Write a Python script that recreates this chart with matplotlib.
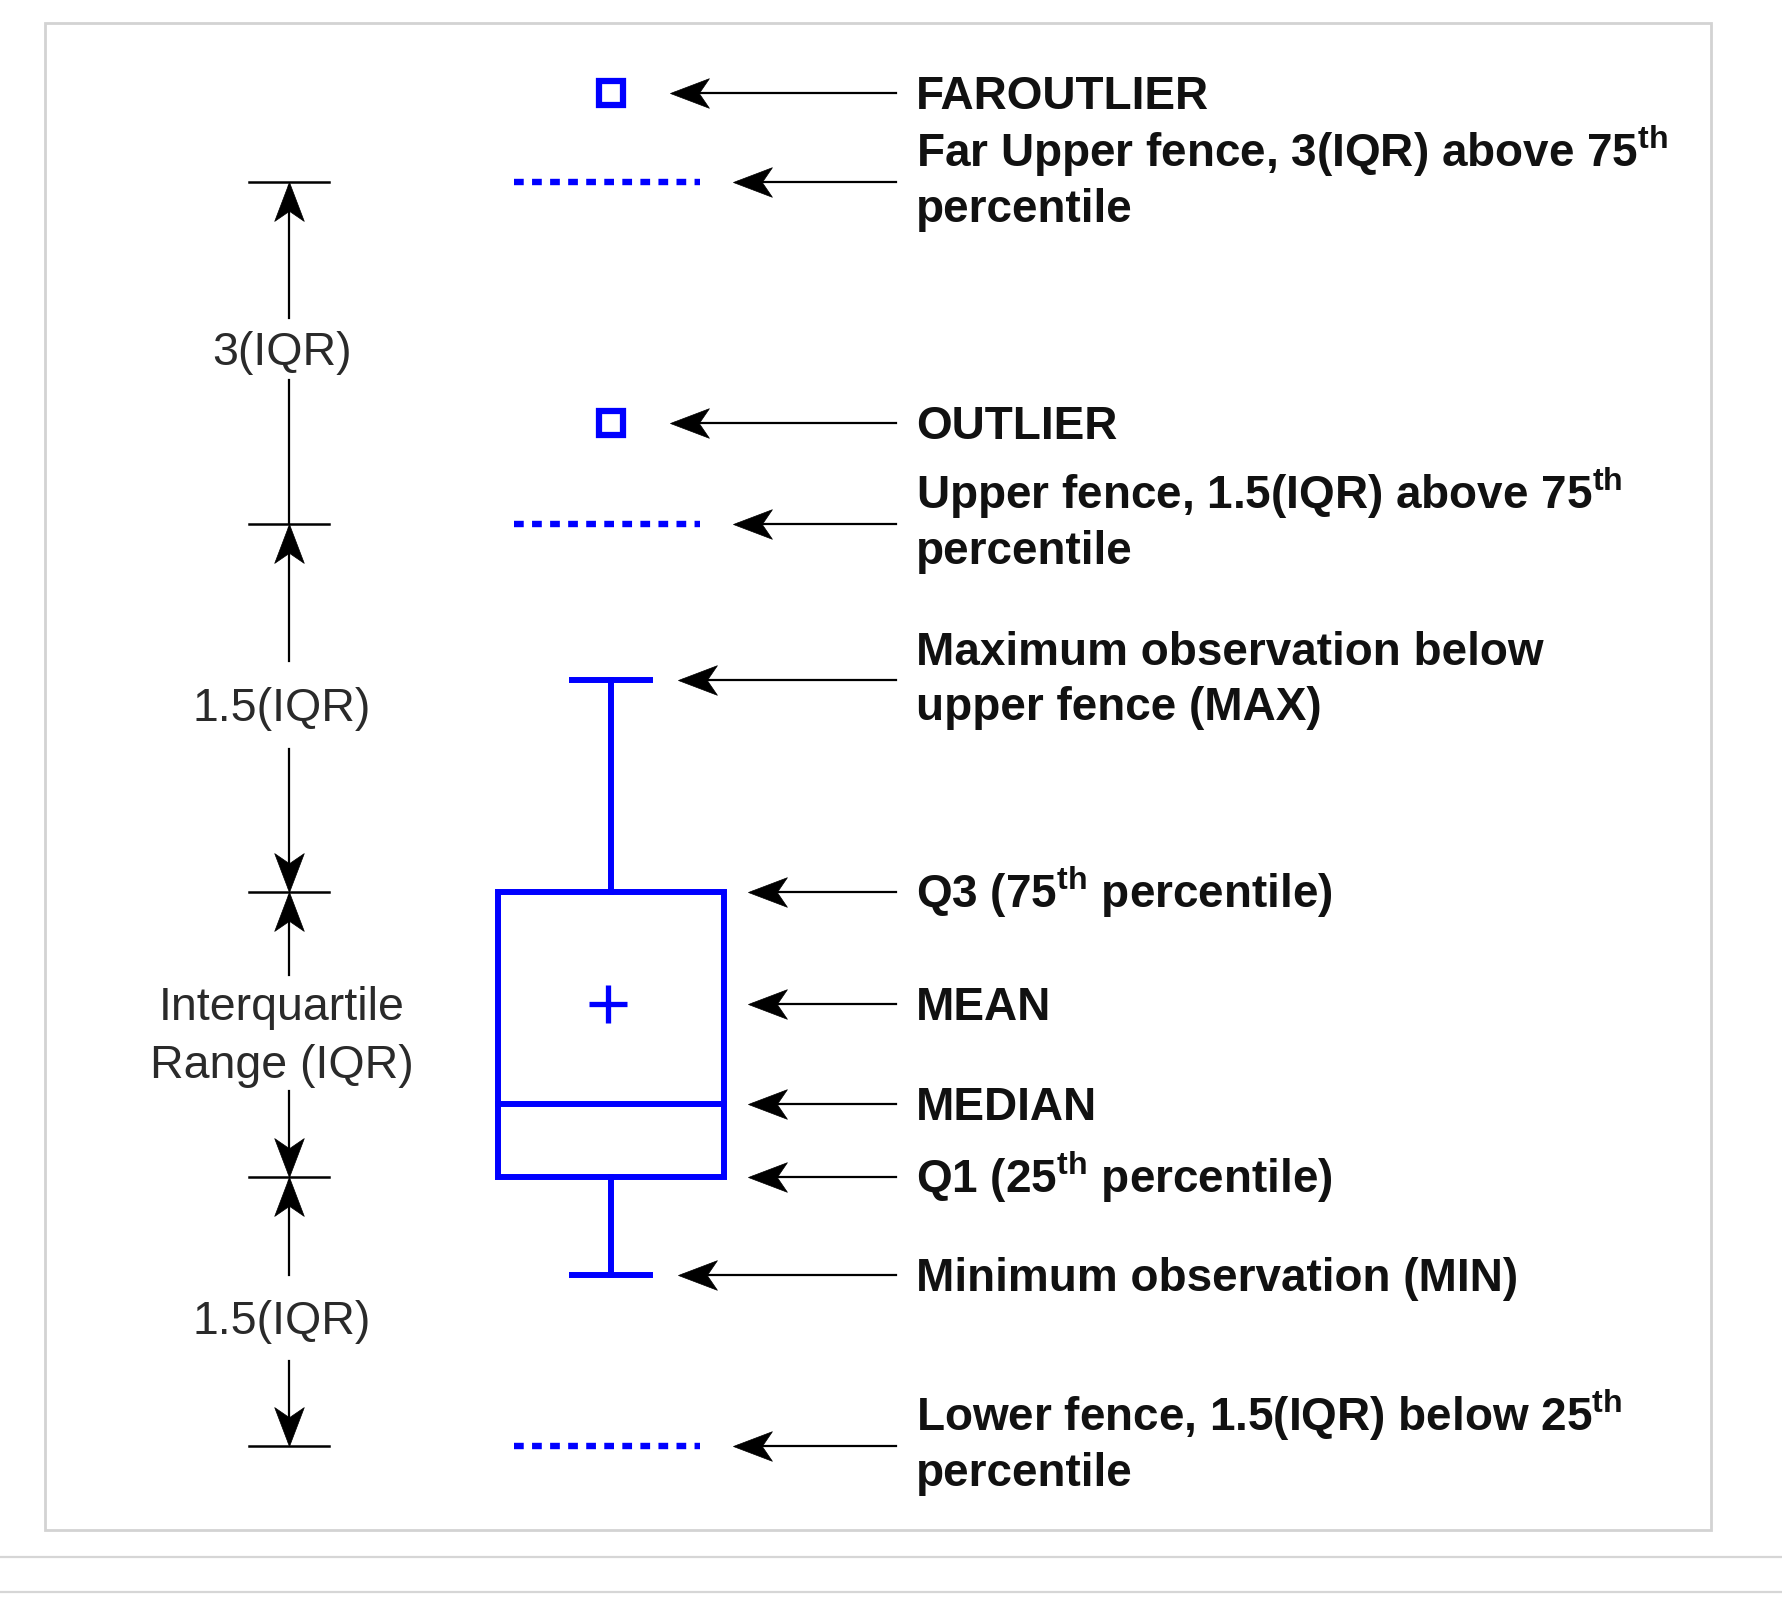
import numpy as np
import matplotlib.pyplot as plt
from matplotlib.path import Path
from matplotlib.patches import Rectangle
from matplotlib.transforms import Affine2D

plt.rcParams['font.family'] = ['Liberation Sans', 'DejaVu Sans']
plt.rcParams['mathtext.fontset'] = 'custom'
plt.rcParams['mathtext.rm'] = 'Liberation Sans'
plt.rcParams['mathtext.bf'] = 'Liberation Sans:bold'
plt.rcParams['lines.scale_dashes'] = False

# %% levels of the schematic box plot (diagram units, 0 = bottom of picture)
stat_names = ['far_outlier', 'far_upper_fence', 'outlier', 'upper_fence', 'max',
              'q3', 'mean', 'median', 'q1', 'min', 'lower_fence']
stat_values = [1512, 1423, 1182, 1081, 925, 713, 601, 501, 428, 330, 159]
stat = dict(zip(stat_names, stat_values))

# text next to each level (one entry per line)
stat_text = [
    ['FAROUTLIER'],
    [r'Far Upper fence, 3(IQR) above 75$^{\mathbf{th}}$', 'percentile'],
    ['OUTLIER'],
    [r'Upper fence, 1.5(IQR) above 75$^{\mathbf{th}}$', 'percentile'],
    ['Maximum observation below', 'upper fence (MAX)'],
    [r'Q3 (75$^{\mathbf{th}}$ percentile)'],
    ['MEAN'],
    ['MEDIAN'],
    [r'Q1 (25$^{\mathbf{th}}$ percentile)'],
    ['Minimum observation (MIN)'],
    [r'Lower fence, 1.5(IQR) below 25$^{\mathbf{th}}$', 'percentile'],
]

# dimension bar on the left
dim_ticks = ['far_upper_fence', 'upper_fence', 'q3', 'q1', 'lower_fence']
dim_labels = [['3(IQR)'], ['1.5(IQR)'], ['Interquartile', 'Range (IQR)'], ['1.5(IQR)']]

# %% layout
W, H = 1782, 1605
blue = '#0000ff'
box_x = 611
box_half = 113
cap_half = 39
arrow_tail = 896
arrow_tip = [670, 733, 670, 733, 678, 748, 748, 748, 748, 678, 733]
text_x = 916
fs = 33
fs_px = fs / 72 * 100
cap = 0.716 * fs_px

dim_x = 289
label_x = 282
label_center = [1256, 900, 572, 287]
label_gap = [31, 44, 58, 43]
heads = [(True, False), (True, True), (True, True), (True, True)]


def head_marker(angle):
    verts = np.array([(0, 0), (1, 0.38), (0.74, 0), (1, -0.38), (0, 0)])
    verts = Affine2D().rotate_deg(angle).transform(verts)
    return Path(verts, [Path.MOVETO, Path.LINETO, Path.LINETO, Path.LINETO, Path.CLOSEPOLY])


left_head = head_marker(0)
up_head = head_marker(-90)
down_head = head_marker(90)
head_ms = 56

fig = plt.figure(figsize=(W / 100, H / 100), dpi=100, facecolor='white')
ax = fig.add_axes([0, 0, 1, 1])
ax.set_xlim(0, W)
ax.set_ylim(0, H)
ax.axis('off')

# frame and page rules
ax.add_patch(Rectangle((45, 75), 1666, 1507, fill=False, ec='#d3d3d3', lw=2))
ax.axhline(48, color='#d6d6d6', lw=1.6)
ax.axhline(13, color='#d6d6d6', lw=1.6)

# -------- box plot --------
ax.add_patch(Rectangle((box_x - box_half, stat['q1']), 2 * box_half,
                       stat['q3'] - stat['q1'], fill=False, ec=blue, lw=4.3,
                       joinstyle='miter'))
ax.plot([box_x - box_half, box_x + box_half], [stat['median']] * 2, color=blue, lw=4.3)
ax.plot([box_x, box_x], [stat['q3'], stat['max']], color=blue, lw=4.3)
ax.plot([box_x, box_x], [stat['q1'], stat['min']], color=blue, lw=4.3)
for k in ['max', 'min']:
    ax.plot([box_x - cap_half, box_x + cap_half], [stat[k]] * 2, color=blue, lw=4.3)
ax.plot(box_x - 3, stat['mean'], marker='+', ms=27, mew=3.8, color=blue)
for k in ['far_outlier', 'outlier']:
    ax.plot(box_x, stat[k], marker='s', ms=17, mew=4.5, mfc='white', mec=blue)
for k in ['far_upper_fence', 'upper_fence', 'lower_fence']:
    ax.plot([514, 700], [stat[k]] * 2, color=blue, lw=4.6,
            linestyle=(0, (7, 6.0)), dash_capstyle='butt')

# -------- arrows and text on the right --------
for name, lines, tip in zip(stat_names, stat_text, arrow_tip):
    v = stat[name]
    ax.plot([tip + 5, arrow_tail], [v, v], color='black', lw=1.6)
    ax.plot(tip, v, marker=left_head, ms=head_ms, color='black', mew=0.5)
    if len(lines) == 1:
        bases = [v - cap / 2]
    else:
        bases = [v + 15, v - 40]
    for s, b in zip(lines, bases):
        ax.text(text_x, b, s, fontsize=fs, fontweight='bold', color='#111111',
                ha='left', va='baseline')

# -------- dimension bar on the left --------
for k in dim_ticks:
    ax.plot([dim_x - 40, dim_x + 40], [stat[k]] * 2, color='black', lw=1.8)

for i, (lab, c, g, (h_top, h_bot)) in enumerate(zip(dim_labels, label_center, label_gap, heads)):
    top = stat[dim_ticks[i]]
    bot = stat[dim_ticks[i + 1]]
    ax.plot([dim_x, dim_x], [top - (4 if h_top else 0), c + g], color='black', lw=1.6)
    ax.plot([dim_x, dim_x], [c - g, bot + (4 if h_bot else 0)], color='black', lw=1.6)
    if h_top:
        ax.plot(dim_x, top, marker=up_head, ms=head_ms, color='black', mew=0.5)
    if h_bot:
        ax.plot(dim_x, bot, marker=down_head, ms=head_ms, color='black', mew=0.5)
    n = len(lab)
    for j, s in enumerate(lab):
        y = c + (n - 1) * 29 - j * 58
        ax.text(label_x, y - cap / 2, s, fontsize=fs + 0.5, color='#2a2a2a',
                ha='center', va='baseline')

fig.savefig('out.png', dpi=100, facecolor='white')
